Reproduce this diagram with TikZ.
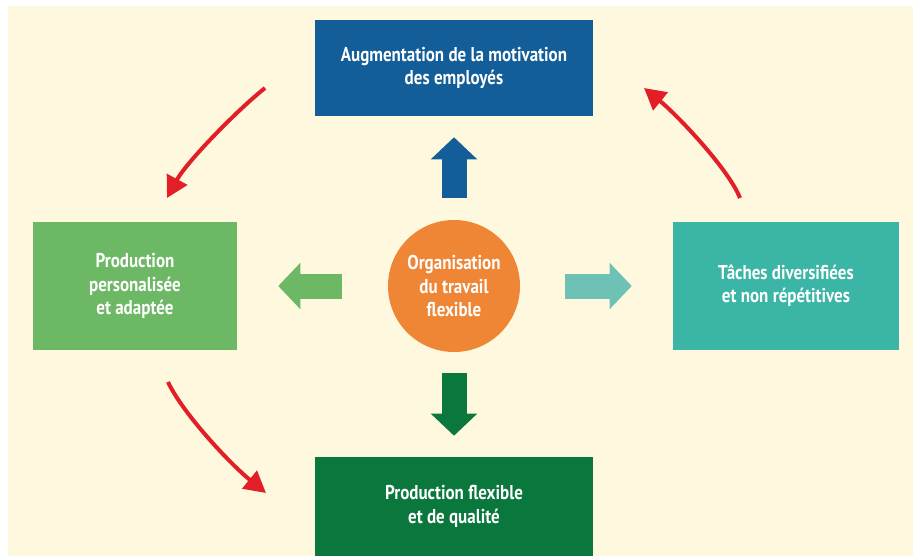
\documentclass[tikz,border=0pt]{standalone}
\usepackage{xcolor}
\usepackage{fontspec}
\setmainfont[FakeStretch=0.85]{PT Sans}
\usepackage{tikz}
\usetikzlibrary{arrows.meta}

\definecolor{fond}{HTML}{FEF9DE}
\definecolor{bleu}{HTML}{135E98}
\definecolor{vertclair}{HTML}{6CB865}
\definecolor{turquoise}{HTML}{3AB5A6}
\definecolor{turquoiseclair}{HTML}{6EC2B5}
\definecolor{vertfonce}{HTML}{0A773D}
\definecolor{orange}{HTML}{EE8636}
\definecolor{rouge}{HTML}{E21F26}

\begin{document}
\begin{tikzpicture}[x=0.75pt, y=-0.75pt,
    boite/.style={rectangle, text=white, align=center, inner sep=0pt,
        font=\bfseries\fontsize{15}{17.5}\selectfont},
    bloc/.style={line width=18.75pt, -{Triangle[length=16.5pt, width=33.75pt]}},
    courbe/.style={draw=rouge, line width=3pt, -{Triangle[length=16pt, width=17pt]}}]
    \useasboundingbox (0,0) rectangle (913,556);
    \fill[white] (0,0) rectangle (913,556);
    \fill[fond] (8,6) rectangle (913,556);

    \node[boite, fill=bleu, minimum width=209pt, minimum height=72pt] (motiv) at (454,68) {Augmentation de la motivation\\des employés};
    \node[boite, fill=vertclair, minimum width=153pt, minimum height=96pt] (perso) at (135,286) {Production\\personalisée\\et adaptée};
    \node[boite, fill=turquoise, minimum width=169.5pt, minimum height=96pt] (taches) at (786,286) {Tâches diversifiées\\et non répétitives};
    \node[boite, fill=vertfonce, minimum width=209pt, minimum height=74.25pt] (qualite) at (454,506.5) {Production flexible\\et de qualité};
    \node[boite, circle, fill=orange, minimum size=99pt] (orga) at (454,286) {Organisation\\du travail\\flexible};

    \draw[bloc, bleu, shorten <=16.5pt, shorten >=15.75pt] (orga) -- (motiv);
    \draw[bloc, vertclair, shorten <=34.5pt, shorten >=30.75pt] (orga) -- (perso);
    \draw[bloc, turquoiseclair, shorten <=33.75pt, shorten >=30.75pt] (orga) -- (taches);
    \draw[bloc, vertfonce, shorten <=15.75pt, shorten >=15.75pt] (orga) -- (qualite);

    \coordinate (hautg) at (265,88);
    \coordinate (milieug) at (167,198);
    \coordinate (basg) at (168,382);
    \coordinate (finbas) at (266,493);
    \coordinate (milieud) at (740,198);
    \coordinate (hautd) at (644,88);
    \draw[courbe] (hautg) .. controls (235,112) and (186,163) .. (milieug);
    \draw[courbe] (basg) .. controls (182,412) and (228,462) .. (finbas);
    \draw[courbe] (milieud) .. controls (728,168) and (676,114) .. (hautd);
\end{tikzpicture}
\end{document}
